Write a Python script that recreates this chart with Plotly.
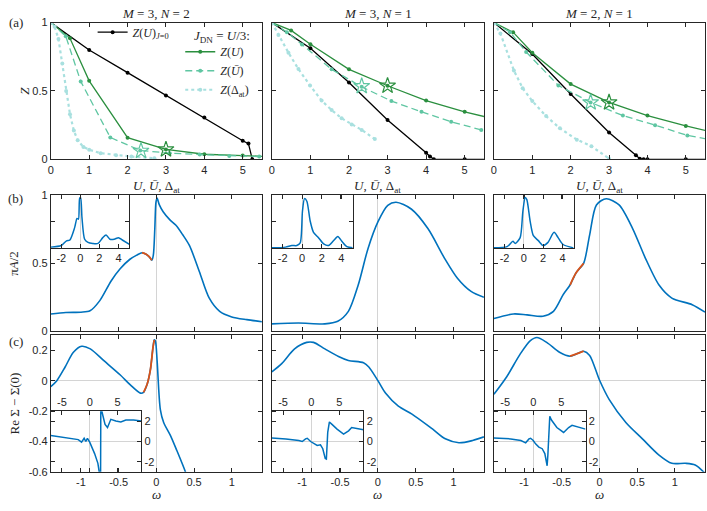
import plotly.graph_objects as go

# ---------------- data ----------------
# (a) quasiparticle weight Z vs interaction, three (M, N) cases
titles_top = ["<i>M</i> = 3, <i>N</i> = 2", "<i>M</i> = 3, <i>N</i> = 1", "<i>M</i> = 2, <i>N</i> = 1"]

zj0_u1 = [0, 1, 2, 3, 4, 5, 5.15, 5.25]
zj0_z1 = [1, 0.80, 0.634, 0.467, 0.306, 0.136, 0.115, 0]
zj0_u2 = [0, 1, 2, 3, 4, 4.1, 4.2, 5, 6]
zj0_z2 = [1, 0.813, 0.562, 0.287, 0.048, 0.02, 0, 0, 0]
zj0_u3 = [0, 1, 2, 3, 3.7, 3.8, 3.9, 4, 5, 6]
zj0_z3 = [1, 0.77, 0.478, 0.196, 0.03, 0.005, 0, 0, 0, 0]

zu_u = [0, 0.5, 1, 2, 3, 4, 5, 6]
zu_z1 = [1, 0.885, 0.574, 0.158, 0.072, 0.037, 0.027, 0.017]
zu_z2 = [1, 0.943, 0.842, 0.658, 0.538, 0.43, 0.347, 0.28]
zu_z3 = [1, 0.93, 0.78, 0.55, 0.416, 0.32, 0.244, 0.18]

zub_u1 = [0, 0.39, 0.78, 1.55, 2.33, 3.1, 3.88, 4.65, 5.43]
zub_z1 = [1, 0.9, 0.57, 0.16, 0.065, 0.045, 0.035, 0.025, 0.02]
zub_u2 = [0, 0.39, 0.78, 1.55, 2.33, 3.1, 3.88, 4.65, 5.43, 6.2]
zub_z2 = [1, 0.93, 0.84, 0.658, 0.53, 0.426, 0.347, 0.275, 0.215, 0.16]
zub_u3 = [0, 0.42, 0.84, 1.68, 2.52, 3.36, 4.2, 5.04, 5.88]
zub_z3 = [1, 0.93, 0.785, 0.54, 0.416, 0.32, 0.25, 0.175, 0.13]

zat_u1 = [0, 0.1, 0.2, 0.3, 0.4, 0.5, 0.6, 0.7, 0.85, 1.0, 1.3, 1.7, 2.1, 2.7]
zat_z1 = [1, 0.97, 0.88, 0.70, 0.50, 0.33, 0.21, 0.14, 0.09, 0.07, 0.045, 0.03, 0.02, 0.008]
zat_u2 = [0, 0.17, 0.43, 0.69, 0.99, 1.29, 1.55, 1.81, 2.07, 2.33, 2.67]
zat_z2 = [1, 0.91, 0.78, 0.66, 0.54, 0.43, 0.36, 0.30, 0.255, 0.215, 0.148]
zat_u3 = [0, 0.17, 0.52, 0.75, 1.0, 1.36, 1.72, 2.16, 2.54, 3.0]
zat_z3 = [1, 0.92, 0.65, 0.52, 0.426, 0.316, 0.227, 0.144, 0.096, 0.005]

star_u = [3, 3, 3]
star_z = [0.072, 0.538, 0.416]
starbar_u = [2.35, 2.33, 2.52]
starbar_z = [0.062, 0.535, 0.416]

# (b) spectral function pi*A/2 vs omega
wb1 = [-1.4, -1.2, -1.0, -0.88, -0.75, -0.6, -0.48, -0.35, -0.26, -0.19, -0.13, -0.09, -0.06, -0.04,
       -0.02, -0.005, 0.01, 0.04, 0.09, 0.18, 0.26, 0.35, 0.44, 0.57, 0.7, 0.84, 1.0, 1.2, 1.4]
ab1 = [0.127, 0.138, 0.14, 0.15, 0.225, 0.37, 0.46, 0.53, 0.56, 0.578, 0.565, 0.545, 0.522, 0.56,
       0.76, 0.95, 0.98, 0.93, 0.88, 0.82, 0.78, 0.71, 0.63, 0.44, 0.245, 0.146, 0.105, 0.085, 0.07]
wb2 = [-1.4, -1.05, -0.7, -0.53, -0.39, -0.26, -0.13, 0, 0.13, 0.24, 0.44, 0.66, 0.88, 1.05, 1.23, 1.4]
ab2 = [0.054, 0.06, 0.054, 0.073, 0.146, 0.34, 0.61, 0.805, 0.927, 0.95, 0.9, 0.756, 0.537, 0.39, 0.293, 0.25]
wb3 = [-1.4, -1.14, -0.96, -0.75, -0.61, -0.48, -0.39, -0.31, -0.21, -0.13, -0.04, 0.09, 0.26, 0.44,
       0.61, 0.79, 0.96, 1.23, 1.4]
ab3 = [0.093, 0.127, 0.12, 0.11, 0.146, 0.27, 0.34, 0.43, 0.5, 0.71, 0.93, 0.976, 0.93, 0.756,
       0.537, 0.34, 0.244, 0.195, 0.14]
red_b = [(-0.19, -0.06), None, (-0.39, -0.21)]

# (b) insets, wide window
wbi1 = [-3.1, -2, -1.45, -1.1, -0.6, -0.35, -0.2, -0.07, 0.03, 0.17, 0.45, 0.8, 1.3, 1.85, 2.35, 2.7,
        3.1, 3.55, 4.0, 4.4, 5.15]
abi1 = [0.02, 0.05, 0.14, 0.155, 0.39, 0.565, 0.55, 0.95, 0.96, 0.58, 0.17, 0.11, 0.09, 0.09, 0.2, 0.25,
        0.17, 0.17, 0.2, 0.155, 0.07]
wbi2 = [-3.1, -1.7, -1.05, -0.55, -0.2, 0.03, 0.24, 0.48, 0.82, 1.16, 1.67, 2.2, 2.7, 3.2, 3.65, 4.06,
        4.57, 5.2]
abi2 = [0.006, 0.02, 0.05, 0.05, 0.1, 0.70, 0.94, 0.89, 0.515, 0.3, 0.2, 0.08, 0.05, 0.14, 0.22, 0.13,
        0.03, 0.006]
wbi3 = [-3.1, -1.74, -1.13, -0.89, -0.38, -0.1, 0.14, 0.31, 0.65, 0.99, 1.5, 2.0, 2.5, 3.13, 3.55,
        4.06, 5.15]
abi3 = [0.006, 0.03, 0.13, 0.09, 0.2, 0.7, 0.96, 0.92, 0.515, 0.236, 0.143, 0.05, 0.11, 0.3, 0.2,
        0.07, 0.006]

# (c) Re Sigma - Sigma(0) vs omega
wc1 = [-1.4, -1.32, -1.21, -1.1, -0.99, -0.876, -0.7, -0.478, -0.345, -0.212, -0.17, -0.12, -0.08,
       -0.044, -0.027, -0.013, 0.01, 0.053, 0.097, 0.186, 0.27, 0.385, 0.45]
sc1 = [-0.039, 0, 0.09, 0.187, 0.226, 0.209, 0.133, 0.037, -0.028, -0.082, -0.077, -0.02, 0.069,
       0.22, 0.269, 0.262, 0.133, -0.19, -0.275, -0.36, -0.458, -0.6, -0.7]
wc2 = [-1.4, -1.27, -1.1, -0.94, -0.85, -0.7, -0.52, -0.39, -0.19, -0.12, 0, 0.1, 0.27, 0.45, 0.72,
       0.89, 1.07, 1.25, 1.4]
sc2 = [0.058, 0.112, 0.209, 0.252, 0.252, 0.209, 0.159, 0.133, 0.118, 0.09, 0, -0.082, -0.168, -0.22,
       -0.318, -0.383, -0.409, -0.394, -0.37]
wc3 = [-1.4, -1.23, -1.05, -0.92, -0.83, -0.7, -0.53, -0.39, -0.285, -0.21, -0.13, 0, 0.13, 0.35,
       0.57, 0.79, 0.96, 1.14, 1.27, 1.4]
sc3 = [-0.09, 0.026, 0.176, 0.262, 0.284, 0.252, 0.187, 0.161, 0.18, 0.194, 0.166, 0.004, -0.125,
       -0.275, -0.383, -0.49, -0.544, -0.544, -0.555, -0.61]
red_c = [(-0.17, -0.027), None, (-0.39, -0.21)]

# (c) insets, wide window
wci1 = [-7, -5, -3.2, -2.06, -1.47, -1.0, -0.7, -0.41, 0, 0.29, 0.88, 1.47, 1.76, 1.95, 2.0, 2.18,
        2.35, 2.76, 3.2, 3.8, 4.7, 5.6, 6.5, 7.9, 9.3]
sci1 = [0.6, 0.42, 0.26, 0.19, -0.06, 0.32, 0, 0.32, -0.06, -0.39, -1.2, -2.16, -3.2, -4.5, 4, 3.0,
        2.5, 1.7, 1.39, 2.2, 2.03, 1.94, 2.13, 2.13, 2.03]
wci2 = [-7, -4.5, -2.2, -1.6, -1.0, -0.7, -0.1, 0.47, 1.06, 1.65, 2.06, 2.5, 2.7, 2.94, 3.24, 3.7,
        4.6, 5.76, 6.65, 7.2, 8.1, 9.3]
sci2 = [0.35, 0.26, 0.1, 0, 0.26, 0.32, 0, -0.23, -0.39, -0.32, -0.71, -1.68, -1.74, 0.9, 1.94, 1.7,
        1.23, 0.74, 1.06, 1.39, 1.29, 1.16]
wci3 = [-7, -4, -2.2, -1.35, -0.76, -0.47, 0, 0.41, 1.0, 1.59, 2.06, 2.35, 2.47, 2.6, 2.76, 2.94,
        3.24, 4.2, 5.4, 6.3, 6.9, 8.06, 9.3]
sci3 = [0.35, 0.26, 0.1, -0.13, 0.26, 0.32, 0.1, -0.23, -0.55, -0.71, -1.19, -2.0, -2.4, -1.35, 0.9,
        2.5, 2.13, 1.39, 0.9, 1.39, 1.6, 1.39, 1.23]

# ---------------- styling ----------------
W, H = 707, 511
INK = "#262626"
GREEN = "#2b8f3f"
MINT = "#5fc6a2"
PALE = "#a8e0df"
BLUE = "#0072BD"
RED = "#D95319"
ZL = "#d4d4d4"
SANS = "Liberation Sans"
SERIF = "Liberation Serif"

COLS = [(48, 260), (270, 483), (493, 705)]
ROWS = [(17, 157), (194, 333), (337, 477)]
INSET_B = [(48, 127), (270, 351), (493, 573)]
INSET_B_Y = (194, 248)
INSET_C = [(48, 139), (270, 362), (493, 585)]
INSET_C_Y = (415, 477)


def dx(a, b):
    return [a / W, b / W]


def dy(top, bot):
    return [1 - bot / H, 1 - top / H]


def ref(letter, k):
    return letter if k == 1 else f"{letter}{k}"


def key(letter, k):
    return f"{letter}axis" if k == 1 else f"{letter}axis{k}"


base = dict(showline=True, linecolor=INK, linewidth=1, mirror="ticks", ticks="inside", ticklen=4,
            tickwidth=1, tickcolor=INK, showgrid=False, zeroline=False, zerolinecolor=ZL,
            zerolinewidth=1, tickfont=dict(family=SANS, size=11, color=INK))

layout = {}


def add_axes(k, xdom, ydom, xopts, yopts):
    layout[key("x", k)] = dict(base, domain=xdom, anchor=ref("y", k), **xopts)
    layout[key("y", k)] = dict(base, domain=ydom, anchor=ref("x", k), **yopts)


fig = go.Figure()

zj0 = [(zj0_u1, zj0_z1), (zj0_u2, zj0_z2), (zj0_u3, zj0_z3)]
zu = [zu_z1, zu_z2, zu_z3]
zub = [(zub_u1, zub_z1), (zub_u2, zub_z2), (zub_u3, zub_z3)]
zat = [(zat_u1, zat_z1), (zat_u2, zat_z2), (zat_u3, zat_z3)]
bdat = [(wb1, ab1), (wb2, ab2), (wb3, ab3)]
bins = [(wbi1, abi1), (wbi2, abi2), (wbi3, abi3)]
cdat = [(wc1, sc1), (wc2, sc2), (wc3, sc3)]
cins = [(wci1, sci1), (wci2, sci2), (wci3, sci3)]

for c in range(3):
    first = c == 0
    # ---- row (a)
    k = c + 1
    add_axes(k, dx(*COLS[c]), dy(*ROWS[0]),
             dict(range=[0, 5.5], tickvals=[0, 1, 2, 3, 4, 5]),
             dict(range=[0, 1], tickvals=[0, 0.5, 1], ticktext=["0", "0.5", "1"], showticklabels=first))
    xa, ya = ref("x", k), ref("y", k)
    fig.add_trace(go.Scatter(x=zj0[c][0], y=zj0[c][1], mode="lines+markers", xaxis=xa, yaxis=ya,
                             line=dict(color="black", width=1.3), marker=dict(size=4),
                             name="<i>Z</i>(<i>U</i>)<sub><i>J</i>=0</sub>", legend="legend",
                             showlegend=first))
    fig.add_trace(go.Scatter(x=zu_u, y=zu[c], mode="lines+markers", xaxis=xa, yaxis=ya,
                             line=dict(color=GREEN, width=1.3), marker=dict(size=4),
                             name="<i>Z</i>(<i>U</i>)", legend="legend2", showlegend=first))
    fig.add_trace(go.Scatter(x=zub[c][0], y=zub[c][1], mode="lines+markers", xaxis=xa, yaxis=ya,
                             line=dict(color=MINT, width=1.3, dash="7px,4px"), marker=dict(size=4),
                             name="<i>Z</i>(<i>Ū</i>)", legend="legend2", showlegend=first))
    fig.add_trace(go.Scatter(x=zat[c][0], y=zat[c][1], mode="lines+markers", xaxis=xa, yaxis=ya,
                             line=dict(color=PALE, width=2.2, dash="dot"), marker=dict(size=4),
                             name="<i>Z</i>(Δ<sub>at</sub>)", legend="legend2", showlegend=first))
    fig.add_trace(go.Scatter(x=[starbar_u[c]], y=[starbar_z[c]], mode="markers", xaxis=xa, yaxis=ya,
                             marker=dict(symbol="star-open", size=12, color=MINT, line=dict(width=1.2)),
                             showlegend=False))
    fig.add_trace(go.Scatter(x=[star_u[c]], y=[star_z[c]], mode="markers", xaxis=xa, yaxis=ya,
                             marker=dict(symbol="star-open", size=12, color=GREEN, line=dict(width=1.2)),
                             showlegend=False))

    # ---- row (b)
    k = c + 4
    add_axes(k, dx(*COLS[c]), dy(*ROWS[1]),
             dict(range=[-1.4, 1.4], tickvals=[-1, -0.5, 0, 0.5, 1], showticklabels=False, zeroline=True),
             dict(range=[0, 1], tickvals=[0, 0.5, 1], ticktext=["0", "0.5", "1"], showticklabels=first))
    xa, ya = ref("x", k), ref("y", k)
    w, a = bdat[c]
    fig.add_trace(go.Scatter(x=w, y=a, mode="lines", xaxis=xa, yaxis=ya, showlegend=False,
                             line=dict(color=BLUE, width=1.6, shape="spline", smoothing=0.8)))
    if red_b[c]:
        lo, hi = red_b[c]
        pts = [(p, q) for p, q in zip(w, a) if lo <= p <= hi]
        fig.add_trace(go.Scatter(x=[p for p, _ in pts], y=[q for _, q in pts], mode="lines", xaxis=xa,
                                 yaxis=ya, showlegend=False,
                                 line=dict(color=RED, width=1.8, shape="spline", smoothing=0.8)))

    # ---- row (c)
    k = c + 7
    add_axes(k, dx(*COLS[c]), dy(*ROWS[2]),
             dict(range=[-1.4, 1.4], tickvals=[-1, -0.5, 0, 0.5, 1],
                  ticktext=["-1", "-0.5", "0", "0.5", "1"], zeroline=True),
             dict(range=[-0.6, 0.3], tickvals=[-0.6, -0.4, -0.2, 0, 0.2],
                  ticktext=["-0.6", "-0.4", "-0.2", "0", "0.2"], showticklabels=first, zeroline=True))
    xa, ya = ref("x", k), ref("y", k)
    w, s = cdat[c]
    fig.add_trace(go.Scatter(x=w, y=s, mode="lines", xaxis=xa, yaxis=ya, showlegend=False,
                             line=dict(color=BLUE, width=1.6, shape="spline", smoothing=0.8)))
    if red_c[c]:
        lo, hi = red_c[c]
        pts = [(p, q) for p, q in zip(w, s) if lo <= p <= hi]
        fig.add_trace(go.Scatter(x=[p for p, _ in pts], y=[q for _, q in pts], mode="lines", xaxis=xa,
                                 yaxis=ya, showlegend=False,
                                 line=dict(color=RED, width=1.8, shape="spline", smoothing=0.8)))

for c in range(3):
    # ---- inset (b)
    k = c + 10
    add_axes(k, dx(*INSET_B[c]), dy(*INSET_B_Y),
             dict(range=[-3.1, 5.15], tickvals=[-2, 0, 2, 4], ticktext=["-2", "0", "2", "4"], zeroline=True),
             dict(range=[0, 1], tickvals=[0, 0.5, 1], showticklabels=False))
    xa, ya = ref("x", k), ref("y", k)
    fig.add_trace(go.Scatter(x=bins[c][0], y=bins[c][1], mode="lines", xaxis=xa, yaxis=ya, showlegend=False,
                             line=dict(color=BLUE, width=1.5, shape="spline", smoothing=0.7)))
    # ---- inset (c)
    k = c + 13
    add_axes(k, dx(*INSET_C[c]), dy(*INSET_C_Y),
             dict(range=[-7, 9.3], tickvals=[-5, 0, 5], ticktext=["-5", "0", "5"], side="top", zeroline=True),
             dict(range=[-3, 3], tickvals=[-2, 0, 2], ticktext=["-2", "0", "2"], side="right", zeroline=True))
    xa, ya = ref("x", k), ref("y", k)
    fig.add_trace(go.Scatter(x=cins[c][0], y=cins[c][1], mode="lines", xaxis=xa, yaxis=ya, showlegend=False,
                             line=dict(color=BLUE, width=1.5)))

# ---------------- text ----------------
serif = dict(family=SERIF, size=13, color=INK)
ann = []
for c in range(3):
    x0, x1 = COLS[c]
    ann.append(dict(text=titles_top[c], x=(x0 + x1) / 2 / W, y=1 - 8 / H, xref="paper", yref="paper",
                    showarrow=False, font=serif, xanchor="center", yanchor="middle"))
    ann.append(dict(text="<i>U</i>, <i>Ū</i>, Δ<sub>at</sub>", x=(x0 + x1) / 2 / W, y=1 - 185 / H,
                    xref="paper", yref="paper", showarrow=False, font=serif, xanchor="center",
                    yanchor="middle"))
    ann.append(dict(text="<i>ω</i>", x=0, xref=ref("x", c + 7), y=1 - 500 / H, yref="paper",
                    showarrow=False, font=serif, xanchor="center", yanchor="middle"))
for lab, yy in [("(a)", 17), ("(b)", 197), ("(c)", 344)]:
    ann.append(dict(text=lab, x=13 / W, y=1 - yy / H, xref="paper", yref="paper", showarrow=False,
                    font=serif, xanchor="center", yanchor="middle"))
for lab, xx, yy in [("<i>Z</i>", 22, 87), ("π<i>A</i>/2", 11, 263), ("Re Σ − Σ(0)", 11, 407)]:
    ann.append(dict(text=lab, x=xx / W, y=1 - yy / H, xref="paper", yref="paper", showarrow=False,
                    font=serif, textangle=-90, xanchor="center", yanchor="middle"))
# header of the second legend block
ann.append(dict(text="<i>J</i><sub>DN</sub> = <i>U</i>/3:", x=190 / W, y=1 - 31 / H, xref="paper",
                yref="paper", showarrow=False, font=serif, xanchor="left", yanchor="middle"))

layout.update(
    width=W, height=H, margin=dict(l=0, r=0, t=0, b=0),
    paper_bgcolor="white", plot_bgcolor="rgba(0,0,0,0)",
    annotations=ann,
    legend=dict(x=90 / W, y=1 - 12 / H, xanchor="left", yanchor="top", bgcolor="rgba(0,0,0,0)",
                font=dict(family=SERIF, size=12, color=INK), itemwidth=30),
    legend2=dict(x=178 / W, y=1 - 32 / H, xanchor="left", yanchor="top", bgcolor="rgba(0,0,0,0)",
                 font=dict(family=SERIF, size=12, color=INK), itemwidth=30, tracegroupgap=0),
)
fig.update_layout(layout)

fig.write_html("out.html", config={"displayModeBar": False},
               post_script="document.body.style.margin='0';")
